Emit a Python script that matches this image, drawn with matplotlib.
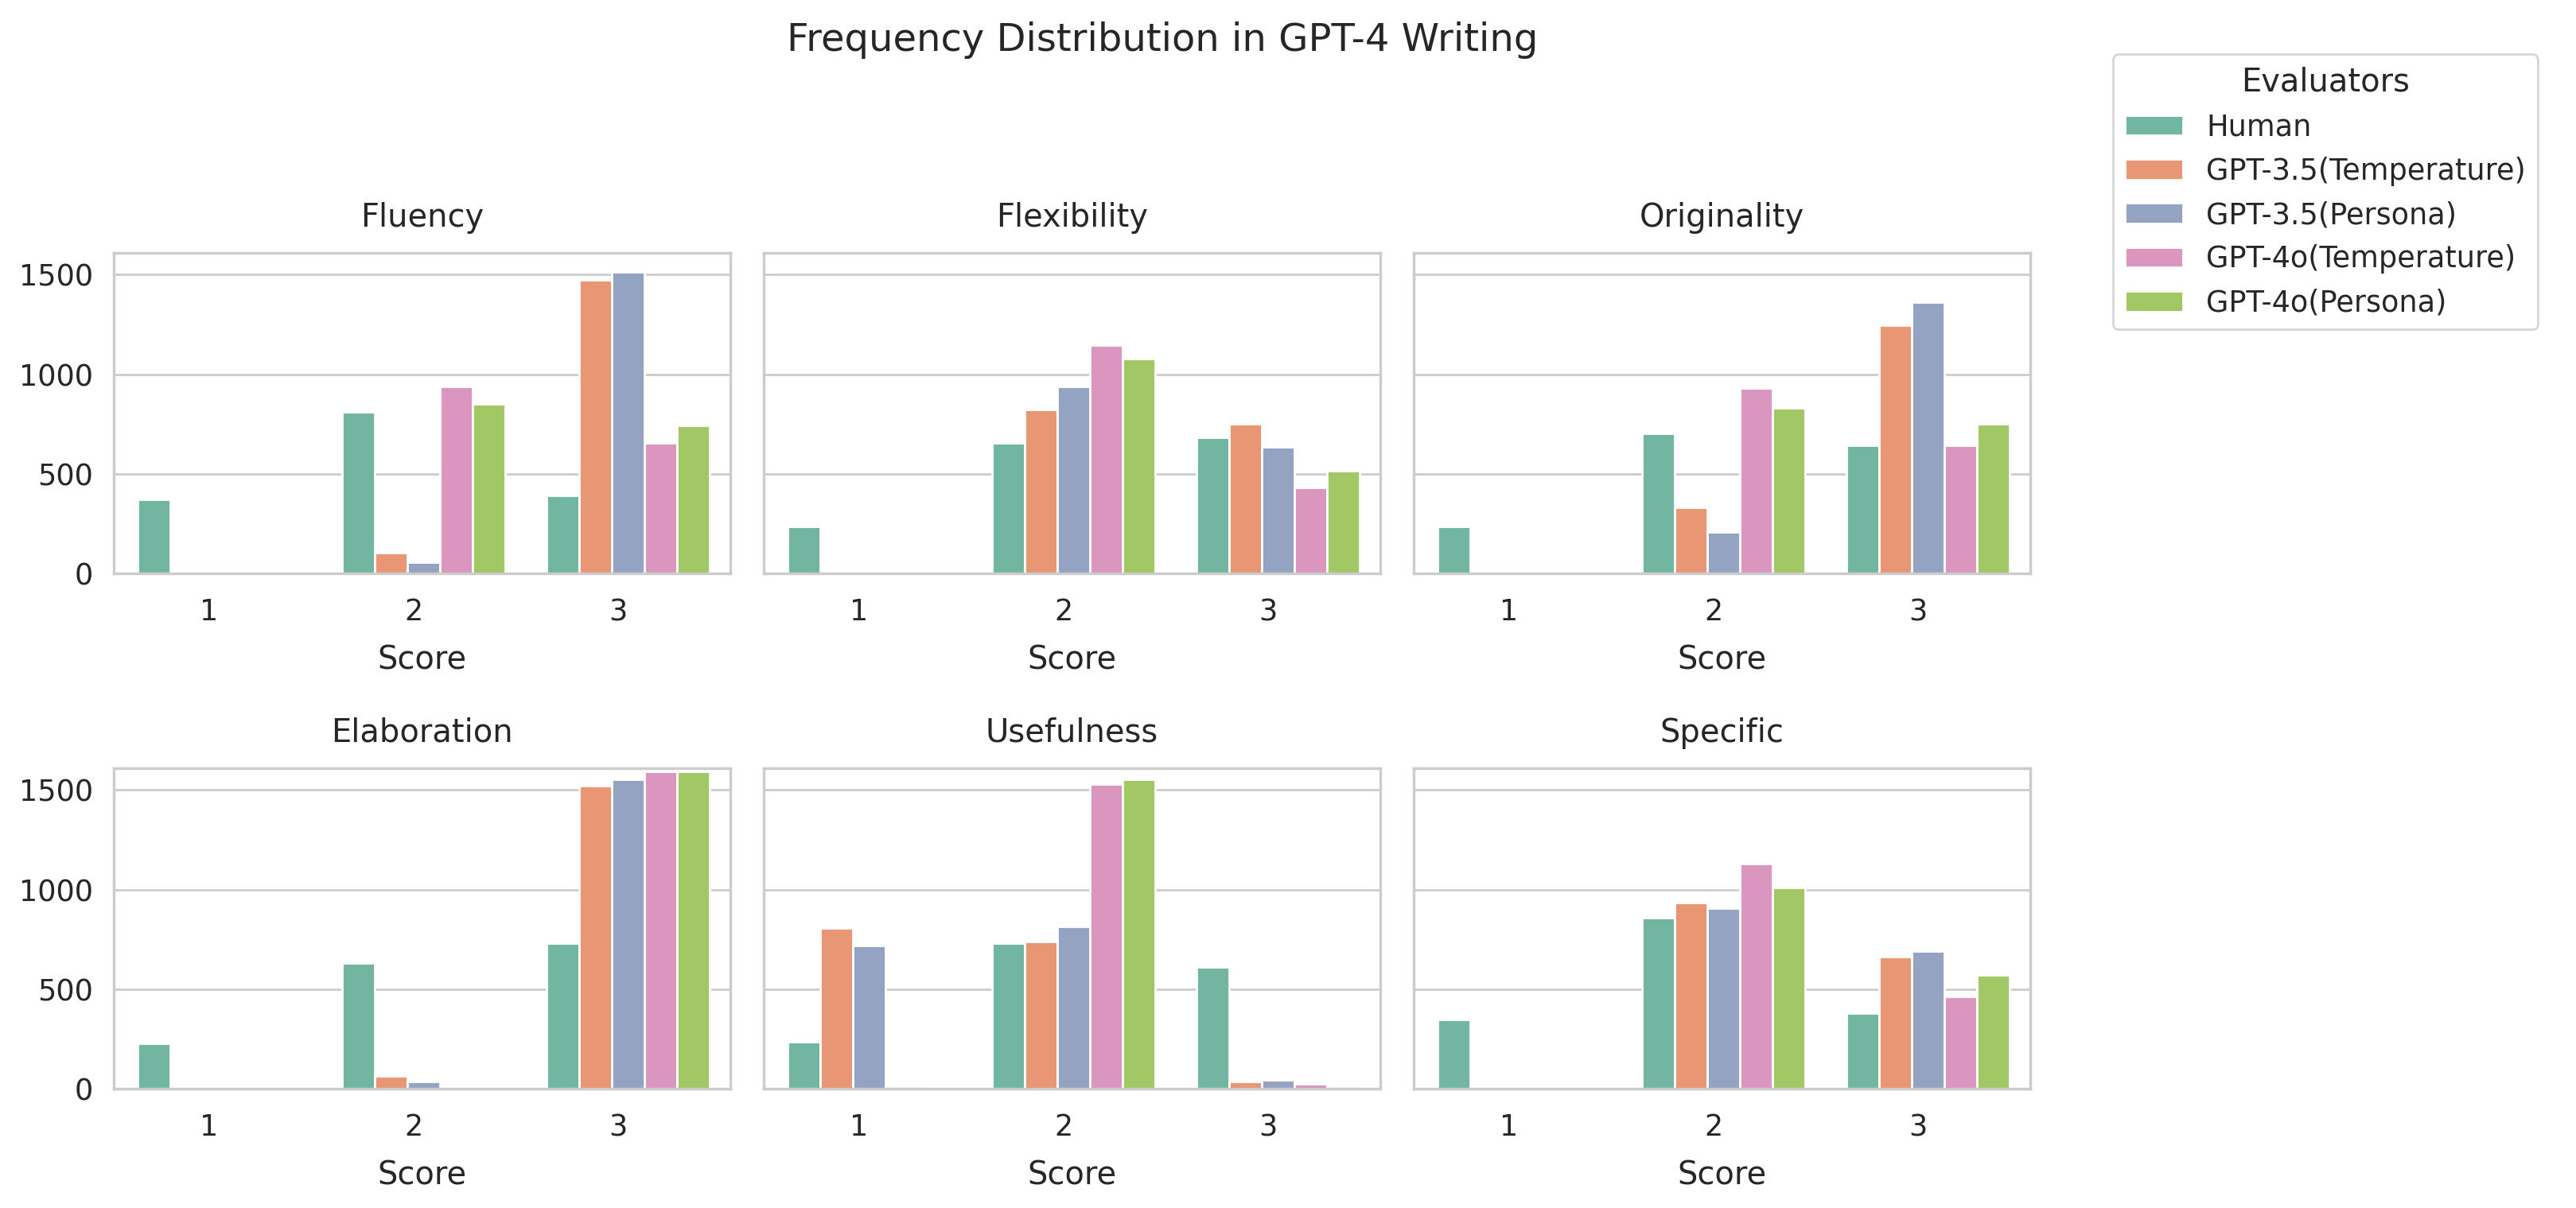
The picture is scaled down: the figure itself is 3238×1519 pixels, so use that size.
import numpy as np
import matplotlib.pyplot as plt
import seaborn as sns

sns.set_theme(style="whitegrid", font_scale=1.2)
plt.rcParams['font.family'] = ['DejaVu Sans']
plt.rcParams['xtick.major.pad'] = 5

# data
scores = [1, 2, 3]
criteria = ['Fluency', 'Flexibility', 'Originality', 'Elaboration', 'Usefulness', 'Specific']
evaluators = ['Human', 'GPT-3.5(Temperature)', 'GPT-3.5(Persona)',
              'GPT-4o(Temperature)', 'GPT-4o(Persona)']

# counts for score 1, 2, 3 ; one row per evaluator
fluency = [[371, 812, 393], [0, 104, 1474], [0, 54, 1512], [0, 940, 653], [0, 852, 743]]
flexibility = [[237, 653, 682], [0, 823, 751], [0, 940, 633], [0, 1148, 432], [0, 1080, 514]]
originality = [[237, 703, 644], [0, 330, 1247], [0, 207, 1364], [0, 931, 644], [0, 832, 751]]
elaboration = [[228, 631, 729], [0, 63, 1523], [0, 36, 1552], [0, 0, 1592], [0, 0, 1592]]
usefulness = [[237, 729, 610], [806, 738, 35], [718, 816, 44], [13, 1531, 22], [0, 1552, 13]]
specific = [[349, 857, 380], [0, 934, 661], [0, 905, 690], [0, 1132, 462], [0, 1011, 571]]

panels = [fluency, flexibility, originality, elaboration, usefulness, specific]

colors = sns.color_palette('Set2', 5, desat=0.75)

fig, axes = plt.subplots(2, 3, figsize=(16.19, 7.595), dpi=200, sharey=True)
fig.subplots_adjust(left=0.0442, right=0.788, top=0.7907, bottom=0.0988,
                    wspace=0.055, hspace=0.608)

width = 0.16
for ax, name, data in zip(axes.flat, criteria, panels):
    for i, (ev, counts) in enumerate(zip(evaluators, data)):
        x = np.array(scores, dtype=float) + 0.05 + (i - 2) * width
        h = np.array(counts)
        keep = h > 0
        ax.bar(x[keep], h[keep], width=width, color=colors[i],
               edgecolor='white', linewidth=1, label=ev)
    ax.set_title(name, pad=12)
    ax.set_xlabel('Score', labelpad=8)
    ax.set_xticks(scores)
    ax.set_xlim(0.534, 3.549)
    ax.grid(axis='x', visible=False)

axes[0, 0].set_ylim(0, 1610)
axes[0, 0].set_yticks([0, 500, 1000, 1500])

handles, labels = axes[0, 0].get_legend_handles_labels()
fig.legend(handles, labels, title='Evaluators', loc='upper left',
           bbox_to_anchor=(0.8203, 0.955), borderaxespad=0)

fig.suptitle('Frequency Distribution in GPT-4 Writing', x=0.4512, y=0.982)

plt.savefig('out.png')
